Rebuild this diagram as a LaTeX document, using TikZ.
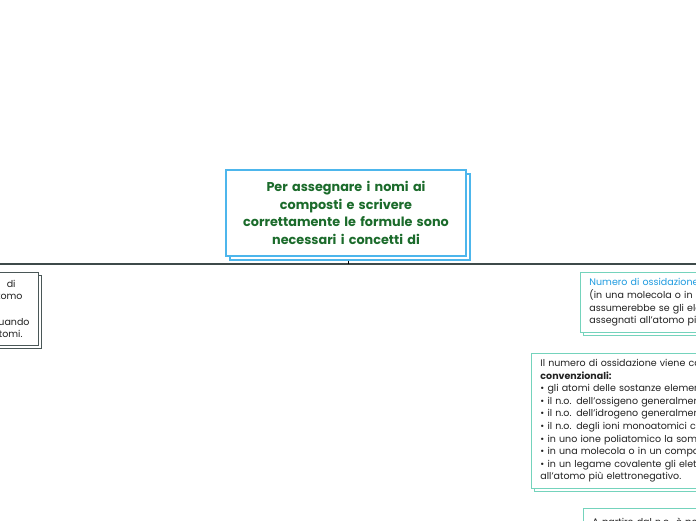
\documentclass[tikz,border=0pt]{standalone}
\usepackage{fontspec}
\setmainfont{Poppins}
\usetikzlibrary{shadows,calc}
\definecolor{cblue}{HTML}{4DB6EC}
\definecolor{cgreen}{HTML}{1B6B2B}
\definecolor{cteal}{HTML}{74D3BC}
\definecolor{cgray}{HTML}{4A5757}
\definecolor{cline}{HTML}{3E4A4A}
\definecolor{ctitle}{HTML}{1E9BE0}
\definecolor{ctext}{HTML}{222222}
\begin{document}
\begin{tikzpicture}[x=1pt,y=-1pt,
  mainbox/.style={draw=cblue, line width=1.3pt, fill=white,
    copy shadow={shadow xshift=4pt, shadow yshift=-4pt},
    minimum width=240pt, minimum height=86pt, text width=230pt, align=center,
    font=\fontsize{12.8}{17.7}\selectfont\bfseries, text=cgreen, inner sep=0pt},
  subbox/.style={line width=0.9pt, fill=white,
    copy shadow={shadow xshift=2.5pt, shadow yshift=-2.5pt},
    inner xsep=9pt, font=\fontsize{9.5}{12.6}\selectfont, text=ctext},
  tealbox/.style={subbox, draw=cteal, align=left},
  graybox/.style={subbox, draw=cgray, align=right},
  hline/.style={draw=cline, line width=1.2pt}
]
\useasboundingbox (0,0) rectangle (696,520);
\clip (0,0) rectangle (696,520);
\fill[white] (0,0) rectangle (696,520);

\coordinate (L) at (0,264);
\coordinate (R) at (696,264);
\coordinate (T) at (348,264);
\draw[hline] (L) -- (R);

\node[mainbox] (main) at (346,213) {Per assegnare i nomi ai\\composti e scrivere\\correttamente le formule sono\\necessari i concetti di};
\draw[draw=black, line width=0.8pt] ($(main.south)+(2,4)$) -- (T);

\node[graybox, anchor=north east, minimum height=73pt, text width=130pt] (left) at (39,272)
  {di\rule{14pt}{0pt}\\atomo\rule{7pt}{0pt}\\\mbox{}\\quando\\atomi.\rule{7pt}{0pt}};

\node[tealbox, anchor=north west, minimum height=60pt, text width=200pt] (num) at (580,272)
  {\textcolor{ctitle}{Numero di ossidazione}\\(in una molecola o in un\\assumerebbe se gli elettroni\\assegnati all’atomo più};

\node[tealbox, anchor=north west, minimum height=135pt, text width=260pt] (regole) at (531,353)
  {Il numero di ossidazione viene calcolato\\
   \textbf{convenzionali:}\\
   • gli atomi delle sostanze elementari\\
   • il n.o. dell’ossigeno generalmente\\
   • il n.o. dell’idrogeno generalmente\\
   • il n.o. degli ioni monoatomici coincide\\
   • in uno ione poliatomico la somma\\
   • in una molecola o in un composto\\
   • in un legame covalente gli elettroni\\
   all’atomo più elettronegativo.};

\node[tealbox, anchor=north west, inner ysep=7pt, minimum height=40pt, text width=200pt] (partire) at (583,508)
  {A partire dal n.o. è possibile\\\mbox{}};
\end{tikzpicture}
\end{document}
